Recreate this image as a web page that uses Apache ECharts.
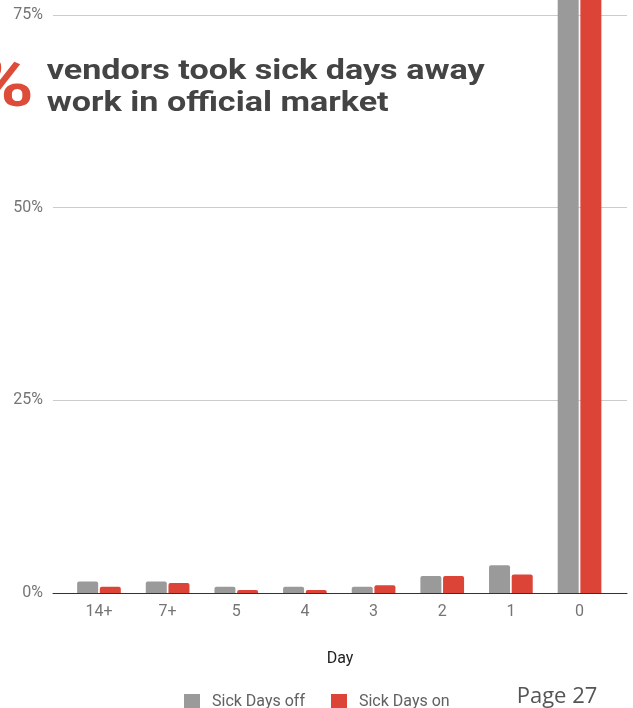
<!DOCTYPE html>
<html>
<head>
<meta charset="utf-8">
<script src="https://cdn.jsdelivr.net/npm/echarts@6/dist/echarts.min.js"></script>
<style>
  html, body { margin: 0; padding: 0; background: #ffffff; }
  #chart { width: 633px; height: 708px; }
</style>
</head>
<body>
<div id="chart"></div>
<script>
// Number of sick days taken, per vendor group
const days = ['14+', '7+', '5', '4', '3', '2', '1', '0'];
const sickDaysOff = [1.5, 1.5, 0.8, 0.8, 0.8, 2.2, 3.6, 88];
const sickDaysOn = [0.8, 1.3, 0.4, 0.4, 1.0, 2.2, 2.4, 89];
const percentTicks = [0, 25, 50, 75, 100];

const seriesNames = ['Sick Days off', 'Sick Days on'];
const seriesColors = ['#9a9a9a', '#dc4437'];

const chart = echarts.init(document.getElementById('chart'), null, { renderer: 'canvas' });

// Plot spans 0..100%; the top of the 100% band sits above the visible page
const plotTop = -178;
const plotBottom = 115;

chart.setOption({
  animation: false,
  backgroundColor: '#ffffff',
  textStyle: { fontFamily: 'Roboto' },
  grid: [
    // bars
    { left: 64.65, right: 19.15, top: plotTop, bottom: plotBottom, outerBoundsMode: 'none', containLabel: false },
    // gridlines, y labels and baseline (slightly wider than the bar area)
    { left: 53, right: 6, top: plotTop, bottom: plotBottom, outerBoundsMode: 'none', containLabel: false }
  ],
  xAxis: [
    {
      gridIndex: 0,
      type: 'category',
      data: days,
      axisLine: { show: false },
      axisTick: { show: false },
      axisLabel: { color: '#757575', fontSize: 16, margin: 11, fontFamily: 'Roboto' }
    },
    {
      gridIndex: 1,
      type: 'value',
      min: 0,
      max: 1,
      axisLine: { show: true, lineStyle: { color: '#333333', width: 1 } },
      axisTick: { show: false },
      axisLabel: { show: false },
      splitLine: { show: false },
      name: 'Day',
      nameLocation: 'middle',
      nameGap: 58,
      nameTextStyle: { color: '#222222', fontSize: 16, fontFamily: 'Roboto' }
    }
  ],
  yAxis: [
    { gridIndex: 0, type: 'value', min: percentTicks[0], max: percentTicks[percentTicks.length - 1], interval: 25, show: false },
    {
      gridIndex: 1,
      type: 'value',
      min: percentTicks[0],
      max: percentTicks[percentTicks.length - 1],
      interval: 25,
      axisLine: { show: false },
      axisTick: { show: false },
      axisLabel: { formatter: '{value}%', color: '#757575', fontSize: 16, margin: 10, fontFamily: 'Roboto' },
      splitLine: { lineStyle: { color: '#cccccc', width: 1 } }
    }
  ],
  legend: {
    data: seriesNames,
    left: 184,
    top: 694,
    padding: 0,
    icon: 'rect',
    itemWidth: 16,
    itemHeight: 16,
    itemGap: 26,
    textStyle: { color: '#616161', fontSize: 16, fontFamily: 'Roboto', padding: [2, 0, 0, 7] }
  },
  series: [
    {
      name: seriesNames[0],
      type: 'bar',
      xAxisIndex: 0,
      yAxisIndex: 0,
      data: sickDaysOff,
      barWidth: 21,
      barGap: '8%',
      itemStyle: { color: seriesColors[0], borderRadius: [2, 2, 0, 0] },
      emphasis: { disabled: true }
    },
    {
      name: seriesNames[1],
      type: 'bar',
      xAxisIndex: 0,
      yAxisIndex: 0,
      data: sickDaysOn,
      barWidth: 21,
      barGap: '8%',
      itemStyle: { color: seriesColors[1], borderRadius: [2, 2, 0, 0] },
      emphasis: { disabled: true }
    }
  ],
  graphic: [
    {
      type: 'text',
      x: 34, y: 89, scaleX: 1.26,
      style: { text: '%', align: 'right', verticalAlign: 'middle', font: 'bold 68px Roboto', fill: '#dd4b39' }
    },
    {
      type: 'text',
      x: 46.7, y: 72, scaleX: 1.264,
      style: { text: 'vendors took sick days away', verticalAlign: 'middle', font: 'bold 27px Roboto', fill: '#444444' }
    },
    {
      type: 'text',
      x: 46.7, y: 104, scaleX: 1.264,
      style: { text: 'work in official market', verticalAlign: 'middle', font: 'bold 27px Roboto', fill: '#444444' }
    },
    {
      type: 'text',
      x: 516.7, y: 697,
      style: { text: 'Page 27', verticalAlign: 'middle', font: '22px "Open Sans"', fill: '#555555' }
    }
  ]
});
</script>
</body>
</html>
